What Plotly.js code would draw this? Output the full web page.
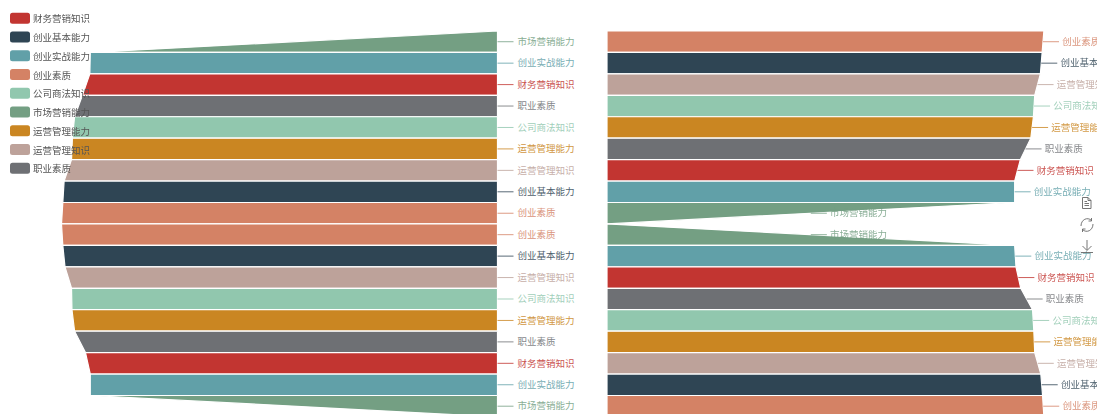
<!DOCTYPE html>
<html>
<head>
<meta charset="utf-8">
<script src="https://cdn.plot.ly/plotly-3.0.1.min.js"></script>
<style>html,body{margin:0;padding:0;background:#fff;overflow:hidden}#chart{width:1100px;height:414px;filter:blur(0.45px)}</style>
</head>
<body>
<div id="chart"></div>
<script>
// Legend categories and their colours
const categories = ['财务营销知识','创业基本能力','创业实战能力','创业素质','公司商法知识','市场营销能力','运营管理能力','运营管理知识','职业素质'];
const colors = ['#c23531','#2f4554','#61a0a8','#d48265','#91c7ae','#749f83','#ca8622','#bda29a','#6e7074'];

// Row order of each funnel
const leftUpperOrder = ['市场营销能力','创业实战能力','财务营销知识','职业素质','公司商法知识','运营管理能力','运营管理知识','创业基本能力','创业素质'];
const leftLowerOrder = ['创业素质','创业基本能力','运营管理知识','公司商法知识','运营管理能力','职业素质','财务营销知识','创业实战能力','市场营销能力'];
const rightUpperOrder = ['创业素质','创业基本能力','运营管理知识','公司商法知识','运营管理能力','职业素质','财务营销知识','创业实战能力','市场营销能力'];
const rightLowerOrder = ['市场营销能力','创业实战能力','财务营销知识','职业素质','公司商法知识','运营管理能力','运营管理知识','创业基本能力','创业素质'];

// Value of each funnel row, plus the value its last row closes on
const leftUpperValues = [0,93.4,93.5,95.2,97.0,97.5,97.7,99.4,99.7];
const leftUpperEnd = 100;
const leftLowerValues = [100,99.7,99.2,97.7,97.6,97.0,94.5,93.4,93.4];
const leftLowerEnd = 0;
const rightUpperValues = [100.2,99.8,99.4,98.1,97.8,97.2,94.8,93.5,93.5];
const rightUpperEnd = 0;
const rightLowerValues = [0,93.5,93.8,94.9,97.6,97.9,98.1,99.5,99.9];
const rightLowerEnd = 100.2;

const PX = 4.36;               // pixels per value unit
const ROW = 21.44;             // pixels per funnel row
const TOP = 31;                // pixel of row 0
const colorOf = Object.fromEntries(categories.map((c, i) => [c, colors[i]]));

const traces = [];
const labelX = [[], []], labelY = [[], []], labelText = [[], []], labelColor = [[], []];

function addFunnel(order, values, end, rowStart, side) {
  const xa = side === 0 ? 'x' : 'x2';
  const dir = side === 0 ? -1 : 1;   // the left panel's value axis runs right-to-left
  const gap = side === 0 ? 20 : 19.2;
  order.forEach((name, i) => {
    const topV = values[i];
    const botV = i + 1 < values.length ? values[i + 1] : end;
    const y0 = rowStart + i, y1 = y0 + 1, ym = y0 + 0.5;
    traces.push({
      type: 'scatter', mode: 'lines', xaxis: xa, yaxis: 'y',
      x: [0, topV, botV, 0, 0], y: [y0, y0, y1, y1, y0],
      fill: 'toself', fillcolor: colorOf[name],
      line: {color: '#ffffff', width: 1.2},
      hoverinfo: 'skip', showlegend: false, name: name
    });
    const anchor = side === 0 ? 0 : (topV + botV) / 2;
    traces.push({
      type: 'scatter', mode: 'lines', xaxis: xa, yaxis: 'y', opacity: 0.8,
      x: [anchor, anchor + dir * 16 / PX], y: [ym, ym],
      line: {color: colorOf[name], width: 1},
      hoverinfo: 'skip', showlegend: false
    });
    labelX[side].push(anchor + dir * gap / PX);
    labelY[side].push(ym + 0.04);
    labelText[side].push(name);
    labelColor[side].push(colorOf[name]);
  });
}

addFunnel(leftUpperOrder, leftUpperValues, leftUpperEnd, 0, 0);
addFunnel(leftLowerOrder, leftLowerValues, leftLowerEnd, 9, 0);
addFunnel(rightUpperOrder, rightUpperValues, rightUpperEnd, 0, 1);
addFunnel(rightLowerOrder, rightLowerValues, rightLowerEnd, 9, 1);

[0, 1].forEach(side => traces.push({
  type: 'scatter', mode: 'text', xaxis: side === 0 ? 'x' : 'x2', yaxis: 'y', opacity: 0.85,
  x: labelX[side], y: labelY[side], text: labelText[side],
  textposition: 'middle right',
  textfont: {family: '"Noto Sans CJK SC", "Noto Sans", sans-serif', size: 9.5, color: labelColor[side]},
  hoverinfo: 'skip', showlegend: false
}));

// Pixel-ranged helper axis for legend and toolbox furniture
traces.push({type: 'scatter', mode: 'none', x: [0], y: [0], xaxis: 'x3', yaxis: 'y3', hoverinfo: 'skip', showlegend: false});

const shapes = [], annotations = [];
categories.forEach((c, i) => {
  const yc = 18.3 + i * 18.75, x0 = 10, x1 = 30, y0 = yc - 5.5, y1 = yc + 5.5, r = 2.5;
  shapes.push({
    type: 'path', xref: 'x3', yref: 'y3', layer: 'above', fillcolor: colors[i], line: {width: 0},
    path: `M${x0 + r},${y0} L${x1 - r},${y0} Q${x1},${y0} ${x1},${y0 + r} L${x1},${y1 - r} Q${x1},${y1} ${x1 - r},${y1} L${x0 + r},${y1} Q${x0},${y1} ${x0},${y1 - r} L${x0},${y0 + r} Q${x0},${y0} ${x0 + r},${y0} Z`
  });
  annotations.push({
    xref: 'x3', yref: 'y3', x: 32, y: yc, text: c, showarrow: false,
    xanchor: 'left', yanchor: 'middle', borderpad: 0,
    font: {family: '"Noto Sans CJK SC", "Noto Sans", sans-serif', size: 9.5, color: '#555'}
  });
});

const iconStyle = {type: 'path', xref: 'x3', yref: 'y3', layer: 'above', fillcolor: 'rgba(0,0,0,0)', line: {color: '#666', width: 0.9}};
[
  // data view
  'M1082.5,197.5 L1088,197.5 L1091,200.5 L1091,208.5 L1082.5,208.5 Z M1088,197.5 L1088,200.5 L1091,200.5 M1084.5,201.5 L1087,201.5 M1084.5,203.5 L1089,203.5 M1084.5,205.5 L1089,205.5',
  // restore
  'M1081,226 C1081,219.5 1087.5,216.5 1091.5,220.5 M1093,224 C1093,230.5 1086.5,233.5 1082.5,229.5 M1091.5,218 L1091.5,221 L1088.5,221 M1082.5,232 L1082.5,229 L1085.5,229',
  // save image
  'M1087,240 L1087,250 M1082.5,246 L1087,250.5 L1091.5,246 M1081,252.5 L1093,252.5'
].forEach(p => shapes.push(Object.assign({}, iconStyle, {path: p})));

const hidden = {visible: false, fixedrange: true, showgrid: false, zeroline: false};
const layout = {
  width: 1100, height: 414,
  margin: {l: 0, r: 0, t: 0, b: 0, pad: 0},
  paper_bgcolor: '#ffffff', plot_bgcolor: 'rgba(0,0,0,0)',
  showlegend: false,
  xaxis: Object.assign({}, hidden, {domain: [0, 600 / 1100], range: [497.5 / PX, (497.5 - 600) / PX]}),
  xaxis2: Object.assign({}, hidden, {domain: [600 / 1100, 1097 / 1100], range: [(600 - 607) / PX, (1097 - 607) / PX]}),
  yaxis: Object.assign({}, hidden, {domain: [0, 1], range: [(414 - TOP) / ROW, -TOP / ROW]}),
  xaxis3: Object.assign({}, hidden, {domain: [0, 1], range: [0, 1100], anchor: 'y3'}),
  yaxis3: Object.assign({}, hidden, {domain: [0, 1], range: [414, 0], anchor: 'x3'}),
  shapes: shapes, annotations: annotations
};
Plotly.newPlot('chart', traces, layout, {displayModeBar: false, staticPlot: true});
</script>
</body>
</html>
